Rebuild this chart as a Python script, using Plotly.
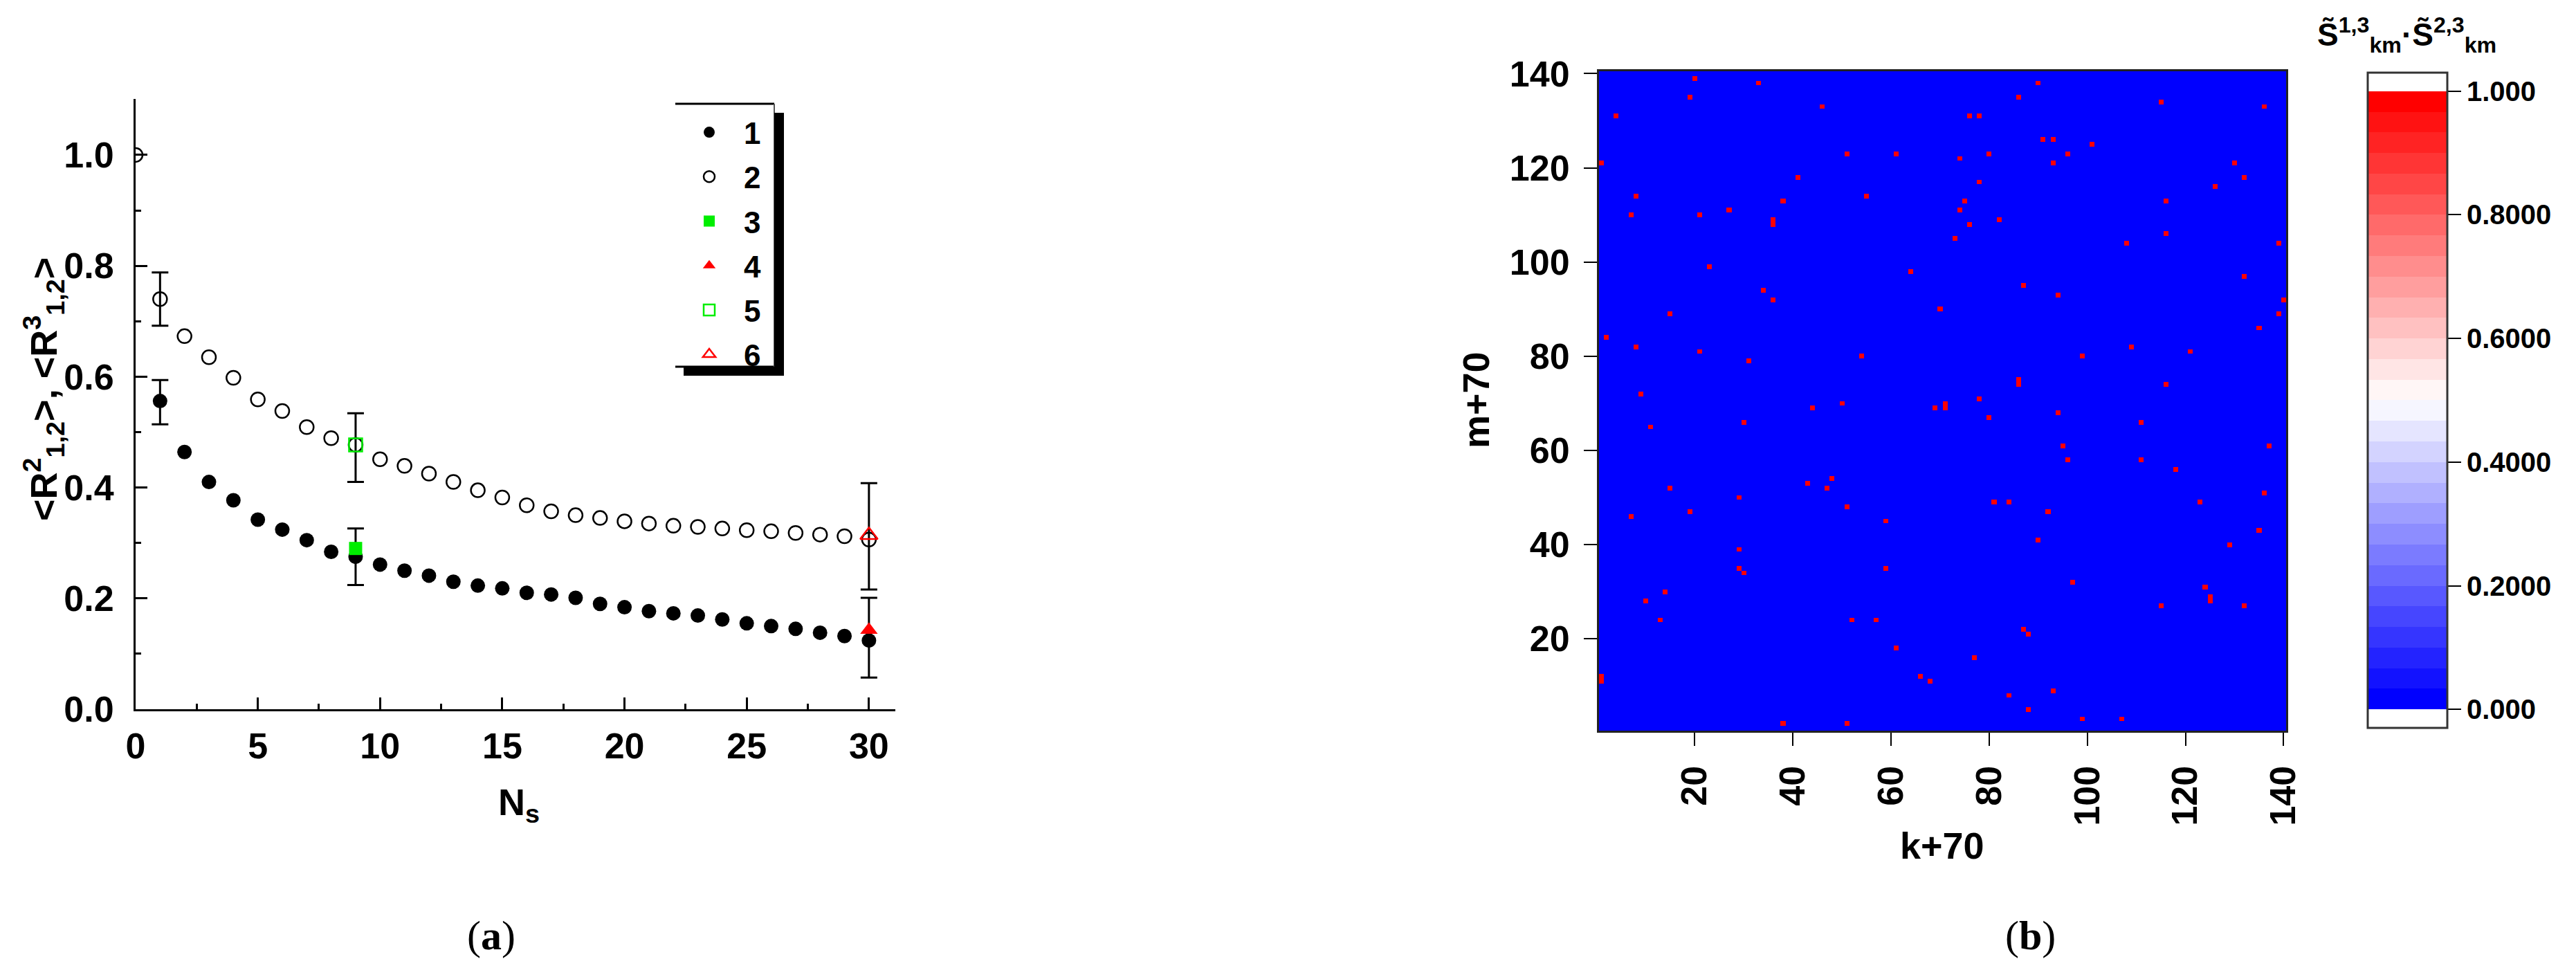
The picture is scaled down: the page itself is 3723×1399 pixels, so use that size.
import numpy as np
import plotly.graph_objects as go

W, H = 3723, 1399

# ---- panel (a): <R^2_12>, <R^3_12> versus N_s
ns_1 = list(range(1, 31))
r_1 = [0.556, 0.464, 0.410, 0.377, 0.342, 0.324, 0.305, 0.284, 0.275, 0.261,
       0.250, 0.241, 0.230, 0.223, 0.218, 0.210, 0.207, 0.201, 0.190, 0.184,
       0.177, 0.173, 0.169, 0.162, 0.155, 0.150, 0.145, 0.138, 0.132, 0.124]
ns_2 = list(range(0, 31))
r_2 = [1.000, 0.740, 0.673, 0.635, 0.598, 0.559, 0.538, 0.509, 0.489, 0.477,
       0.451, 0.439, 0.425, 0.410, 0.395, 0.382, 0.368, 0.357, 0.350, 0.345,
       0.339, 0.335, 0.331, 0.329, 0.326, 0.323, 0.321, 0.318, 0.315, 0.312,
       0.306]
ns_3, r_3 = [9], [0.290]
ns_4, r_4 = [30], [0.143]
ns_5, r_5 = [9], [0.477]
ns_6, r_6 = [30], [0.314]

err_ns = [1, 9, 30, 1, 9, 30]
err_mid = [0.554, 0.275, 0.129, 0.740, 0.472, 0.312]
err_half = [0.040, 0.051, 0.072, 0.048, 0.062, 0.096]

# ---- panel (b): cells where S13 * S23 == 1 (all others are 0)
cells_k = [20, 33, 90, 19, 4, 46, 86, 76, 78, 115, 136,
           1, 91, 93, 101, 51, 61, 80, 96, 74, 93, 130,
           41, 132, 78, 126, 8, 55, 38, 75, 116,
           7, 21, 27, 74, 36, 36, 76, 82, 73, 116, 108, 139,
           23, 64, 132, 34, 36, 87, 94, 140, 70, 15, 139,
           2, 135, 8, 109, 21, 121, 54, 99, 31,
           86, 86, 116, 9, 78, 50, 71, 71, 69, 44, 94, 80,
           11, 30, 111, 95, 137, 96, 111, 118,
           48, 43, 47, 15, 29, 136, 81, 84, 123,
           7, 51, 19, 92, 59, 135, 90, 129, 29,
           29, 30, 59, 97, 124, 14, 10, 115, 132, 125, 125,
           13, 52, 57, 61, 77, 87, 88, 1, 1, 66, 68,
           93, 84, 88, 38, 51, 99, 107]
cells_m = [139, 138, 138, 135, 131, 133, 135, 131, 131, 134, 133,
           121, 126, 126, 125, 123, 123, 123, 123, 122, 121, 121,
           118, 118, 117, 116, 114, 114, 113, 113, 113,
           110, 110, 111, 111, 108, 109, 108, 109, 105, 106, 104, 104,
           99, 98, 97, 94, 92, 95, 93, 92, 90, 89, 89,
           84, 86, 82, 82, 81, 81, 80, 80, 79,
           74, 75, 74, 72, 71, 70, 69, 70, 69, 69, 68, 67,
           65, 66, 66, 61, 61, 58, 58, 56,
           54, 53, 52, 52, 50, 51, 49, 49, 49,
           46, 48, 47, 47, 45, 43, 41, 40, 39,
           35, 34, 35, 32, 31, 30, 28, 27, 27, 28, 29,
           24, 24, 24, 18, 16, 22, 21, 11, 12, 12, 11,
           9, 8, 5, 2, 2, 3, 3]
grid_n = 140
cbar_vals = [0, 0.2, 0.4, 0.6, 0.8, 1.0]
cbar_text = ["0.000", "0.2000", "0.4000", "0.6000", "0.8000", "1.000"]

FONT = "Liberation Sans, Arial, sans-serif"


def px_x(p):
    return p / W


def px_y(p):
    return 1 - p / H


def stepped_scale(n_bands=30, pad=0.03):
    lo = pad / (1 + 2 * pad)
    hi = (1 + pad) / (1 + 2 * pad)
    scale = [[0.0, "white"], [lo - 1e-6, "white"]]
    for i in range(n_bands):
        t = i / (n_bands - 1)
        if t < 0.5:
            v = int(round(255 * t / 0.5))
            c = f"rgb({v},{v},255)"
        else:
            v = int(round(255 * (1 - t) / 0.5))
            c = f"rgb(255,{v},{v})"
        scale.append([lo + i * (hi - lo) / n_bands, c])
        scale.append([lo + (i + 1) * (hi - lo) / n_bands, c])
    scale.append([hi + 1e-6, "white"])
    scale.append([1.0, "white"])
    return scale


fig = go.Figure()

fig.add_trace(go.Scatter(
    x=err_ns, y=err_mid, mode="markers", showlegend=False,
    marker=dict(size=1, color="rgba(0,0,0,0)"),
    error_y=dict(type="data", array=err_half, color="black", thickness=3, width=12),
))
fig.add_trace(go.Scatter(
    x=ns_1, y=r_1, mode="markers", name="1", legendgroup="1",
    marker=dict(symbol="circle", size=21, color="black"),
))
fig.add_trace(go.Scatter(
    x=ns_2, y=r_2, mode="markers", name="2", legendgroup="2",
    marker=dict(symbol="circle-open", size=20, color="black", line=dict(width=2.5)),
))
fig.add_trace(go.Scatter(
    x=ns_3, y=r_3, mode="markers", name="3", legendgroup="3",
    marker=dict(symbol="square", size=19, color="#00ee00"),
))
fig.add_trace(go.Scatter(
    x=ns_4, y=r_4, mode="markers", name="4", legendgroup="4",
    marker=dict(symbol="triangle-up", size=22, color="#ff0000"),
))
fig.add_trace(go.Scatter(
    x=ns_5, y=r_5, mode="markers", name="5", legendgroup="5",
    marker=dict(symbol="square-open", size=19, color="#00ee00", line=dict(width=2.5)),
))
fig.add_trace(go.Scatter(
    x=ns_6, y=r_6, mode="markers", name="6", legendgroup="6",
    marker=dict(symbol="triangle-up-open", size=22, color="#ff0000", line=dict(width=2.5)),
))

z = np.zeros((grid_n, grid_n))
for k, m in zip(cells_k, cells_m):
    z[m - 1, k - 1] = 1.0
axis_vals = list(range(1, grid_n + 1))

fig.add_trace(go.Heatmap(
    x=axis_vals, y=axis_vals, z=z, xaxis="x2", yaxis="y2",
    zmin=-0.03, zmax=1.03, colorscale=stepped_scale(), showlegend=False,
    colorbar=dict(
        x=px_x(3422), xanchor="left", xpad=0, ypad=0,
        y=px_y(578.5), yanchor="middle",
        thicknessmode="pixels", thickness=115,
        lenmode="pixels", len=947,
        outlinewidth=3, outlinecolor="#333",
        tickvals=cbar_vals, ticktext=cbar_text,
        ticks="outside", ticklen=19, tickwidth=2, tickcolor="black",
        tickfont=dict(family=FONT, size=40, color="black", weight="bold"),
    ),
))

tick_font = dict(family=FONT, size=52, color="black", weight="bold")
title_font = dict(family=FONT, size=54, color="black", weight="bold")

fig.update_layout(
    template="none",
    width=W, height=H,
    margin=dict(l=0, r=0, t=0, b=0),
    paper_bgcolor="white", plot_bgcolor="white",
    font=dict(family=FONT, color="black"),
    showlegend=True,
    legend=dict(
        x=px_x(975), y=px_y(156), xanchor="left", yanchor="top",
        font=dict(family=FONT, size=44, color="black", weight="bold"),
        bgcolor="rgba(0,0,0,0)", borderwidth=0, itemwidth=90, tracegroupgap=4,
    ),
    xaxis=dict(
        domain=[px_x(196), px_x(1294)], range=[0, 31.08], anchor="y",
        showline=True, linewidth=3, linecolor="black", mirror=False,
        showgrid=False, zeroline=False,
        tick0=0, dtick=5, ticks="inside", ticklen=17, tickwidth=3, tickcolor="black",
        minor=dict(dtick=2.5, ticks="inside", ticklen=8, tickwidth=3, tickcolor="black", showgrid=False),
        tickfont=tick_font, ticklabelstandoff=6,
    ),
    yaxis=dict(
        domain=[px_y(1025), px_y(143)], range=[0, 1.101], anchor="x",
        showline=True, linewidth=3, linecolor="black", mirror=False,
        showgrid=False, zeroline=False,
        tick0=0, dtick=0.2, tickformat=".1f",
        ticks="inside", ticklen=17, tickwidth=3, tickcolor="black",
        minor=dict(dtick=0.1, ticks="inside", ticklen=8, tickwidth=3, tickcolor="black", showgrid=False),
        tickfont=tick_font, ticklabelstandoff=18,
    ),
    xaxis2=dict(
        domain=[px_x(2311), px_x(3304)], range=[0.5, 140.5], anchor="y2",
        showline=True, linewidth=3, linecolor="#222", mirror=True,
        showgrid=False, zeroline=False,
        tickvals=[20, 40, 60, 80, 100, 120, 140], tickangle=-90,
        ticks="outside", ticklen=19, tickwidth=2, tickcolor="black",
        tickfont=tick_font, ticklabelstandoff=8,
    ),
    yaxis2=dict(
        domain=[px_y(1056), px_y(103)], range=[0.5, 140.5], anchor="x2",
        showline=True, linewidth=3, linecolor="#222", mirror=True,
        showgrid=False, zeroline=False,
        tickvals=[20, 40, 60, 80, 100, 120, 140],
        ticks="outside", ticklen=19, tickwidth=2, tickcolor="black",
        tickfont=tick_font, ticklabelstandoff=10,
    ),
)

# legend frame with Origin-style drop shadow
legend_frame = [
    dict(type="line", x0=976, x1=1119, y0=150, y1=150, line=dict(color="black", width=3)),
    dict(type="line", x0=976, x1=1119, y0=530, y1=530, line=dict(color="black", width=3)),
    dict(type="line", x0=1119, x1=1119, y0=150, y1=530, line=dict(color="#555", width=2)),
    dict(type="rect", x0=1119, x1=1133, y0=163, y1=543, fillcolor="black", line=dict(width=0)),
    dict(type="rect", x0=988, x1=1133, y0=530, y1=543, fillcolor="black", line=dict(width=0)),
]
for s in legend_frame:
    s = dict(s)
    s["xref"], s["yref"] = "paper", "paper"
    s["x0"], s["x1"] = px_x(s["x0"]), px_x(s["x1"])
    s["y0"], s["y1"] = px_y(s["y0"]), px_y(s["y1"])
    fig.add_shape(**s)

labels = [
    dict(x=63, y=563, text="&lt;R<sup>2</sup><sub>1,2</sub>&gt;, &lt;R<sup>3</sup><sub>1,2</sub>&gt;",
         textangle=-90, font=title_font),
    dict(x=750, y=1163, text="N<sub>s</sub>", font=title_font),
    dict(x=2133, y=578, text="m+70", textangle=-90, font=title_font),
    dict(x=2807, y=1222, text="k+70", font=title_font),
    dict(x=3478, y=50,
         text="S\u0303<sup>1,3</sup><sub>km</sub>\u00b7S\u0303<sup>2,3</sup><sub>km</sub>",
         font=dict(family=FONT, size=46, color="black", weight="bold")),
    dict(x=710, y=1352, text="(<b>a</b>)",
         font=dict(family="Liberation Serif, DejaVu Serif, serif", size=60, color="black")),
    dict(x=2934, y=1352, text="(<b>b</b>)",
         font=dict(family="Liberation Serif, DejaVu Serif, serif", size=60, color="black")),
]
for a in labels:
    fig.add_annotation(
        xref="paper", yref="paper", x=px_x(a["x"]), y=px_y(a["y"]),
        xanchor="center", yanchor="middle", showarrow=False,
        text=a["text"], textangle=a.get("textangle", 0), font=a["font"],
    )

fig.write_html("out.html", config={"displayModeBar": False},
               post_script="document.body.style.margin='0';")
